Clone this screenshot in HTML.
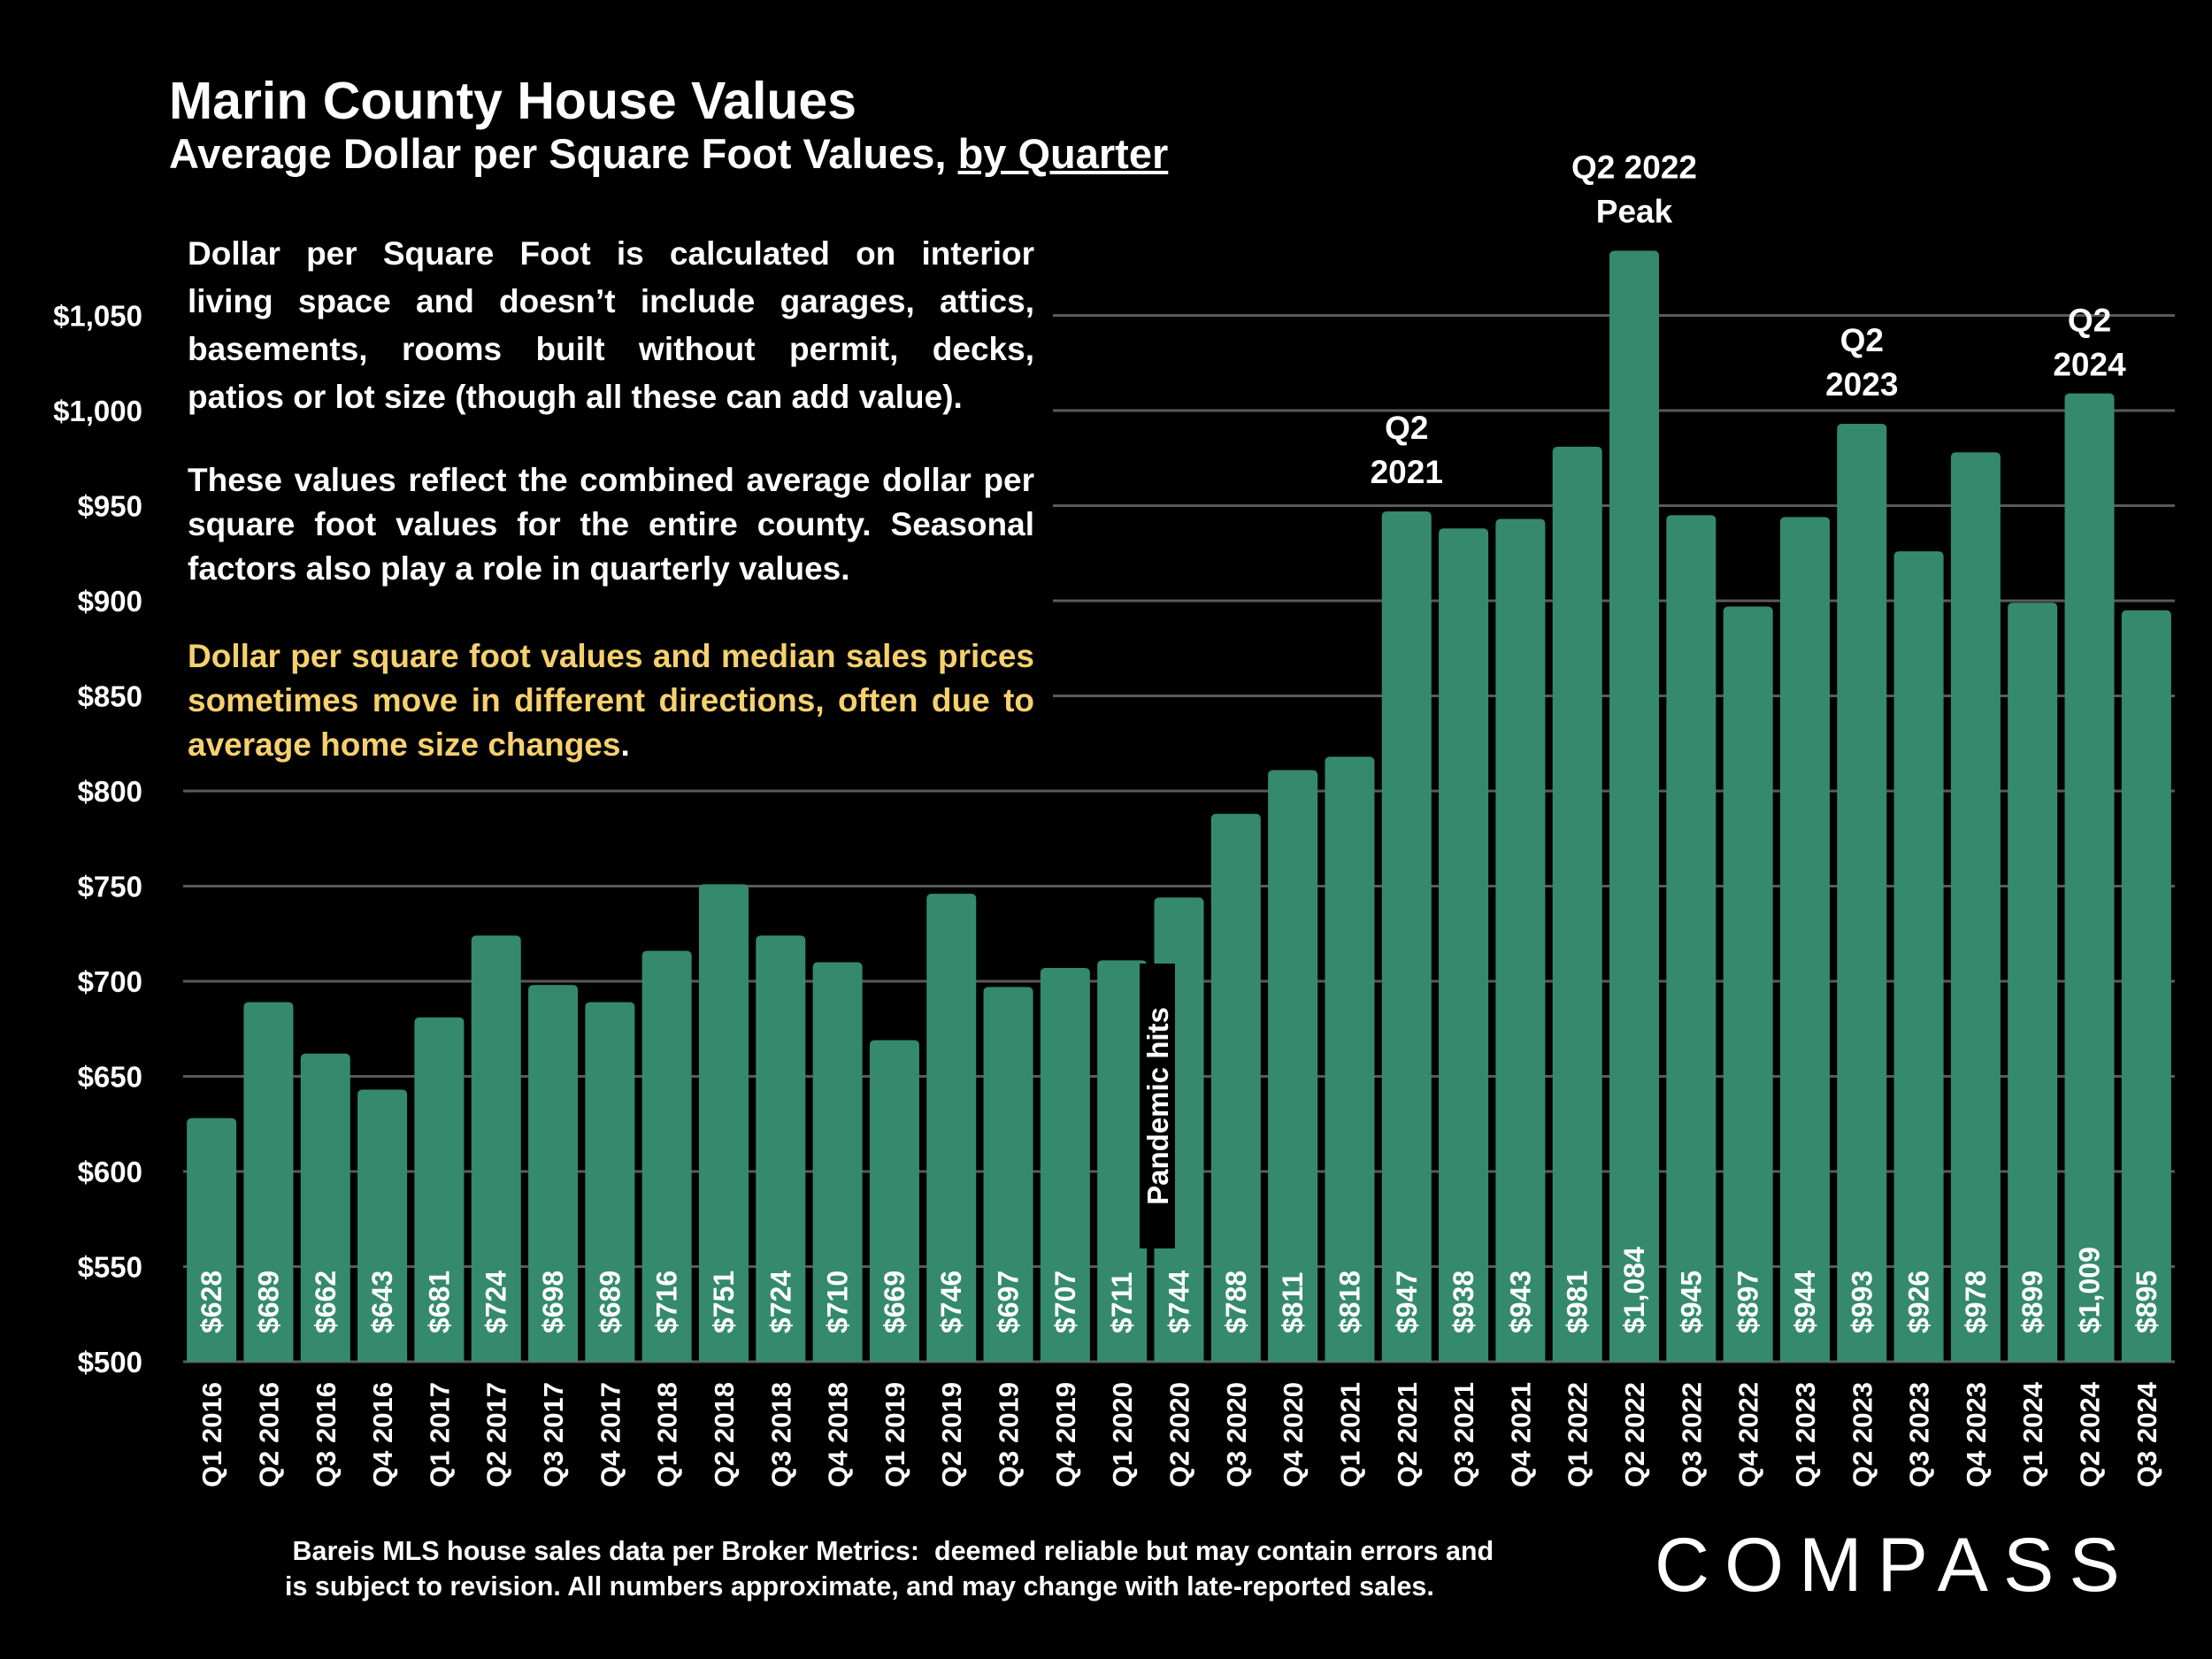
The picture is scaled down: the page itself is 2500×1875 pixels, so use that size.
<!DOCTYPE html>
<html><head><meta charset="utf-8"><style>
body{margin:0;background:#000;width:2500px;height:1875px;overflow:hidden;font-family:"Liberation Sans",sans-serif;color:#fff}
#c{position:absolute;left:0;top:0}
.t{position:absolute;font-weight:bold}
.para{position:absolute;left:212px;width:957px;font-size:37px;font-weight:bold;background:#000}
.para div{text-align:justify;text-align-last:justify;white-space:nowrap}
.para div.l{text-align-last:left}
</style></head><body>
<svg id="c" width="2500" height="1875"></svg>
<div class="t" style="left:191px;top:80px;font-size:59px">Marin County House Values</div>
<div class="t" style="left:191px;top:146px;font-size:47px">Average Dollar per Square Foot Values, <u>by Quarter</u></div>
<div style="position:absolute;left:190px;top:250px;width:1000px;height:620px;background:#000"></div>
<div class="para" style="top:260px;line-height:54px"><div>Dollar per Square Foot is calculated on interior</div><div>living space and doesn’t include garages, attics,</div><div>basements, rooms built without permit, decks,</div><div class="l">patios or lot size (though all these can add value).</div></div>
<div class="para" style="top:518px;line-height:50px"><div>These values reflect the combined average dollar per</div><div>square foot values for the entire county. Seasonal</div><div class="l">factors also play a role in quarterly values.</div></div>
<div class="para" style="top:717px;line-height:50px;color:#f5d06e"><div>Dollar per square foot values and median sales prices</div><div>sometimes move in different directions, often due to</div><div class="l">average home size changes<span style="color:#fff">.</span></div></div>
<div class="t" style="left:322px;top:1733px;font-size:30.5px;line-height:40px">&nbsp;Bareis MLS house sales data per Broker Metrics:&nbsp; deemed reliable but may contain errors and<br>is subject to revision. All numbers approximate, and may change with late-reported sales.</div>
<div style="position:absolute;left:1870px;top:1720px;font-size:86px;letter-spacing:17px;font-family:'Liberation Sans',sans-serif">COMPASS</div>
<script>
const categories=["Q1 2016","Q2 2016","Q3 2016","Q4 2016","Q1 2017","Q2 2017","Q3 2017","Q4 2017","Q1 2018","Q2 2018","Q3 2018","Q4 2018","Q1 2019","Q2 2019","Q3 2019","Q4 2019","Q1 2020","Q2 2020","Q3 2020","Q4 2020","Q1 2021","Q2 2021","Q3 2021","Q4 2021","Q1 2022","Q2 2022","Q3 2022","Q4 2022","Q1 2023","Q2 2023","Q3 2023","Q4 2023","Q1 2024","Q2 2024","Q3 2024"];
const values=[628,689,662,643,681,724,698,689,716,751,724,710,669,746,697,707,711,744,788,811,818,947,938,943,981,1084,945,897,944,993,926,978,899,1009,895];
const yTicks=[500,550,600,650,700,750,800,850,900,950,1000,1050];
const annotations=[["Q2","2021",21],["Q2 2022","Peak",25],["Q2","2023",29],["Q2","2024",33]];
const NS="http://www.w3.org/2000/svg";
const svg=document.getElementById('c');
const X0=207,X1=2458,Y0=1539,PX=107.5/50;
const band=(X1-X0)/categories.length,bw=56;
const y=v=>Y0-(v-500)*PX;
const xc=i=>X0+band*(i+0.5);
function mk(t,a){const e=document.createElementNS(NS,t);for(const k in a)e.setAttribute(k,a[k]);svg.appendChild(e);return e;}
yTicks.forEach(v=>{
  const g=mk('line',{x1:X0,x2:X1,y1:y(v),y2:y(v),stroke:'#5a5a5a','stroke-width':3});
  
  
  const t=mk('text',{x:161,y:y(v)+12,'text-anchor':'end','font-size':33,'font-weight':'bold',fill:'#fff','font-family':'Liberation Sans'});
  t.textContent='$'+v.toLocaleString('en-US');
  
  
});
values.forEach((v,i)=>{
  const x=xc(i)-bw/2,top=y(v),r=6;
  const p=mk('path',{d:`M${x},${Y0}V${top+r}Q${x},${top} ${x+r},${top}H${x+bw-r}Q${x+bw},${top} ${x+bw},${top+r}V${Y0}Z`,fill:'#358a6d'});
  
  
  const t=mk('text',{x:0,y:0,transform:`translate(${xc(i)+11},1507) rotate(-90)`,'font-size':32,'font-weight':'bold',fill:'#fff','font-family':'Liberation Sans'});
  t.textContent='$'+v.toLocaleString('en-US');
  
  
  const c=mk('text',{x:0,y:0,transform:`translate(${xc(i)+11},1562) rotate(-90)`,'text-anchor':'end','font-size':31,'font-weight':'bold',fill:'#fff','font-family':'Liberation Sans'});
  c.textContent=categories[i];
  
  
});
annotations.forEach(a=>{
  const i=a[2],top=y(values[i]);
  const off=(i===33)?70:82;
  [a[0],a[1]].forEach((s,k)=>{
    const t=mk('text',{x:xc(i),y:top-off+k*50,'text-anchor':'middle','font-size':37,'font-weight':'bold',fill:'#fff','font-family':'Liberation Sans'});
    t.textContent=s;
    
    
  });
});
const pb=mk('rect',{x:1288,y:1089,width:40,height:322,fill:'#000'});


const pt=mk('text',{x:0,y:0,transform:'translate(1320,1250) rotate(-90)','text-anchor':'middle','font-size':33,'font-weight':'bold',fill:'#fff','font-family':'Liberation Sans'});
pt.textContent='Pandemic hits';


</script>
</body></html>
